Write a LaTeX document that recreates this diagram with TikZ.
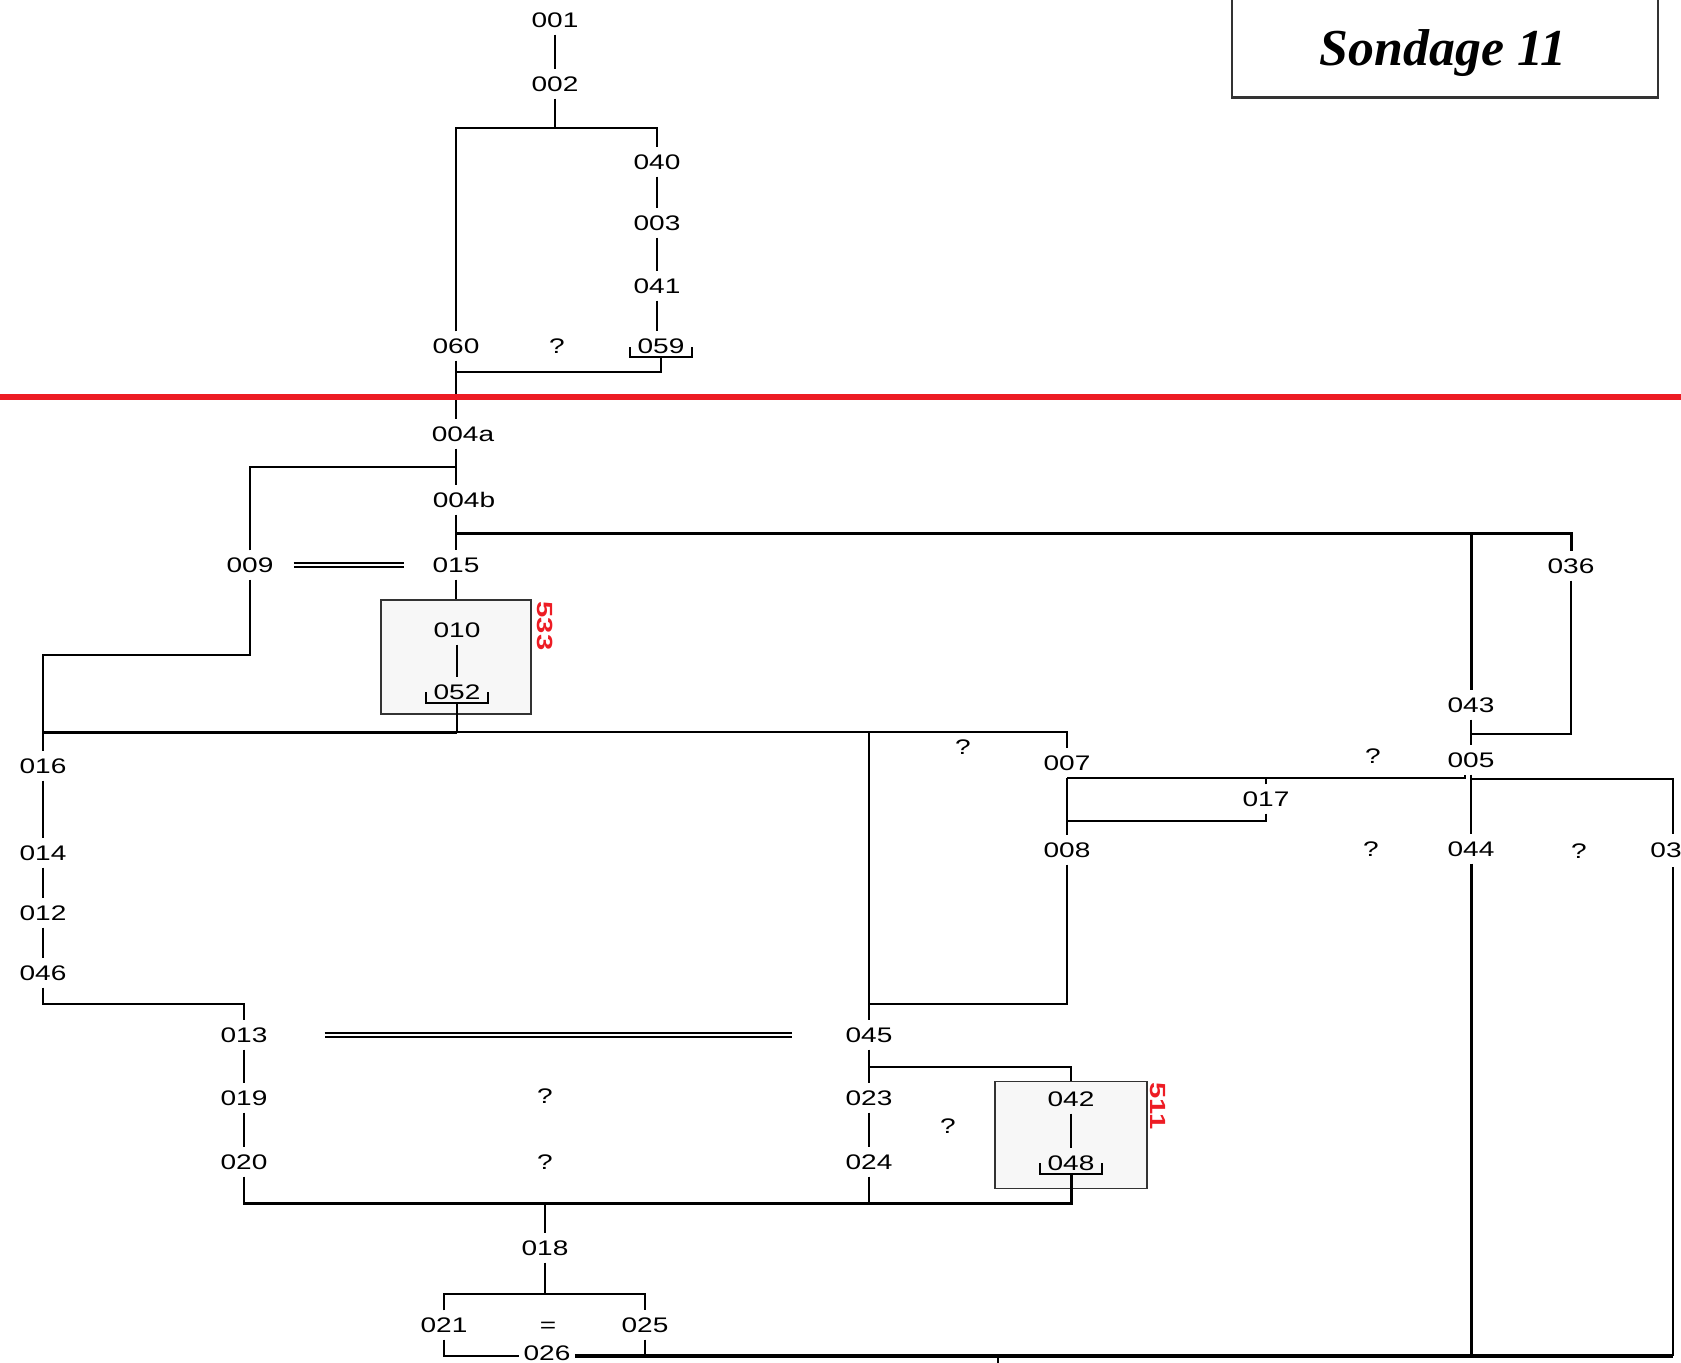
\documentclass[tikz,border=0pt]{standalone}
\usepackage{fontspec}
\usepackage{xcolor}
\usepackage{tikz}
\usetikzlibrary{calc}
\newfontfamily\lblfont[FakeStretch=1.33]{Liberation Sans}
\newfontfamily\ttlfont{Liberation Serif}
\definecolor{sred}{HTML}{ED1C24}
\tikzset{
  unit/.style={font=\lblfont\fontsize{12}{12}\selectfont, inner xsep=2pt, inner ysep=3.5pt,
               text height=8.6pt, text depth=0pt},
  trunk/.style={line width=1.7pt},
  heavy/.style={line width=2.4pt},
  same/.style={double, double distance=1.5pt, line width=0.7pt},
  group/.style={rectangle, draw=black!80, line width=1.1pt, fill=black!3, inner sep=0pt},
  tag/.style={font=\lblfont\bfseries\fontsize{12.5}{12.5}\selectfont, text=sred, inner sep=0pt, rotate=-90},
  titlebox/.style={rectangle, draw=black!80, line width=1.4pt, minimum width=8.52cm, minimum height=2.06cm},
}

\begin{document}
\begin{tikzpicture}[x=0.02cm, y=-0.02cm, line width=1.1pt]
\useasboundingbox (0,0) rectangle (1681,1363);
\clip (0,0) rectangle (1681,1363);
% title
\node[titlebox] (ttlbox) at (1445,46) {};
\node[font=\ttlfont\bfseries\itshape\fontsize{29.5}{29.5}\selectfont] (ttl) at (1443,53) {Sondage 11};
% upper phase
\node[unit] (n001) at (555,20) {001};
\node[unit] (n002) at (555,84) {002};
\node[unit] (n040) at (657,162) {040};
\node[unit] (n003) at (657,223) {003};
\node[unit] (n041) at (657,286) {041};
\node[unit] (n060) at (456,346) {060};
\node[unit] (q1) at (557,346) {?};
\node[unit] (n059) at (661,346) {059};
\coordinate (k1) at (555,128);
\coordinate (k2) at (456,372);
\draw (n001) -- (n002);
\draw (n002) -- (k1);
\draw (n060.north) |- (k1) -| (n040.north);
\draw (n040) -- (n003);
\draw (n003) -- (n041);
\draw (n041.south) -- (n041.south |- n059.north);
\draw ($(n059)+(-31,1)$) |- ($(n059)+(31,11)$) -- ++(0,-10);
\draw ($(n059)+(0,11)$) |- (k2);
% lower phase, top
\node[unit] (n004a) at (463,434) {004a};
\node[unit] (n004b) at (464,500) {004b};
\node[unit] (n009) at (250,565) {009};
\node[unit] (n015) at (456,565) {015};
\node[unit] (n036) at (1571,566) {036};
\coordinate (k3) at (456,467);
\coordinate (k4) at (456,533);
\draw (n060.south) -- (n060.south |- n004a.north);
\draw (n004a.south -| n060) -- (n004b.north -| n060);
\draw (n009.north) |- (k3);
\draw (n004b.south -| n060) -- (n015.north);
\draw[same, shorten <=9pt, shorten >=14pt] (n009.east) -- (n015.west);
% group 533
\node[group, minimum width=3cm, minimum height=2.28cm] (g533) at (456,657) {};
\node[tag] (t533) at (545,626) {533};
\node[unit] (n010) at (457,630) {010};
\node[unit] (n052) at (457,692) {052};
\draw (n015) -- (g533.north);
\draw (n010) -- (n052);
\draw ($(n052)+(-31,0)$) |- ($(n052)+(31,11)$) -- ++(0,-11);
% left column
\node[unit] (n016) at (43,766) {016};
\node[unit] (n014) at (43,853) {014};
\node[unit] (n012) at (43,913) {012};
\node[unit] (n046) at (43,973) {046};
\node[unit] (n013) at (244,1035) {013};
\node[unit] (n019) at (244,1098) {019};
\node[unit] (n020) at (244,1162) {020};
\coordinate (k5) at (457,732);
\coordinate (k6) at (43,655);
\coordinate (k7) at (244,1004);
\draw ($(n052)+(0,11)$) -- (k5);
\draw (n009.south) |- (k6) -- (n016.north);
\draw[trunk] (k5) -- (k5 -| n016);
\draw (n016) -- (n014);
\draw (n014) -- (n012);
\draw (n012) -- (n046);
\draw (n046.south) |- (k7) -- (n013.north);
\draw (n013) -- (n019);
\draw (n019) -- (n020);
% middle
\node[unit] (q2) at (963,747) {?};
\node[unit] (n007) at (1067,763) {007};
\node[unit] (n017) at (1266,799) {017};
\node[unit] (n008) at (1067,850) {008};
\node[unit] (n045) at (869,1035) {045};
\node[unit] (n023) at (869,1098) {023};
\node[unit] (n024) at (869,1162) {024};
\node[unit] (q6) at (545,1096) {?};
\node[unit] (q7) at (948,1126) {?};
\node[unit] (q8) at (545,1162) {?};
\coordinate (k8) at (1067,778);
\coordinate (k9) at (1067,821);
\coordinate (k10) at (869,1004);
\coordinate (k14) at (869,1067);
\draw (k5) -| (n007.north);
\draw (k5 -| n045) -- (n045.north);
\draw (n007) -- (n008);
\draw (n017.north) -- (n017.north |- k8);
\draw (n017.south) |- (k9);
\draw (n008.south) |- (k10);
\draw[same, shorten <=30pt, shorten >=28pt] (n013.east) -- (n045.west);
\draw (n045) -- (n023);
\draw (n023) -- (n024);
% right
\node[unit] (n043) at (1471,705) {043};
\node[unit] (q3) at (1373,756) {?};
\node[unit] (n005) at (1471,760) {005};
\node[unit] (q4) at (1371,849) {?};
\node[unit] (n044) at (1471,849) {044};
\node[unit] (q5) at (1579,851) {?};
\node[unit, anchor=west] (n03) at (1646,850) {03};
\coordinate (x03) at (1673,850);
\coordinate (k11) at (1471,734);
\coordinate (k12) at (1471,779);
\coordinate (k13) at (1673,1356);
\draw[trunk] (k4) -| (n036.north);
\draw[trunk] (k4 -| n043) -- (n043.north);
\draw (n036.south) |- (k11);
\draw (n043) -- (n005);
\draw (k8) -| ($(n005.south)+(-6,0)$);
\draw (n005) -- (n044);
\draw (k12) -| ($(x03)+(0,-16)$);
\draw[trunk] (n044.south) -- (n044.south |- k13);
\draw ($(x03)+(0,17)$) -- (k13);
% group 511
\node[group, minimum width=3.04cm, minimum height=2.14cm] (g511) at (1071,1135) {};
\node[tag] (t511) at (1158,1106) {511};
\node[unit] (n042) at (1071,1099) {042};
\node[unit] (n048) at (1071,1163) {048};
\draw (k14) -| (g511.north);
\draw (n042) -- (n048);
\draw ($(n048)+(-31,0)$) |- ($(n048)+(31,11)$) -- ++(0,-11);
% bottom
\node[unit] (n018) at (545,1248) {018};
\node[unit] (n021) at (444,1325) {021};
\node[unit] (eq) at (548,1325) {=};
\node[unit] (n025) at (645,1325) {025};
\node[unit] (n026) at (547,1353) {026};
\coordinate (k15) at (545,1203);
\coordinate (k16) at (545,1294);
\coordinate (k17) at (998,1356);
\draw[trunk] (n020.south) |- (k15) -| ($(n048)+(0,11)$);
\draw (n024.south) -- (n024.south |- k15);
\draw (k15) -- (n018.north);
\draw[trunk] (n018.south) -- (k16);
\draw (n021.north) |- (k16) -| (n025.north);
\draw (n021.south) |- (n026.west |- k13);
\draw (n025.south) -- (n025.south |- k13);
\draw[heavy] (n026.east |- k13) -- (k13);
\draw (k17) -- ++(0,12);
% phase boundary
\draw[line width=3pt, sred] (0,397) -- (1681,397);
\end{tikzpicture}
\end{document}
